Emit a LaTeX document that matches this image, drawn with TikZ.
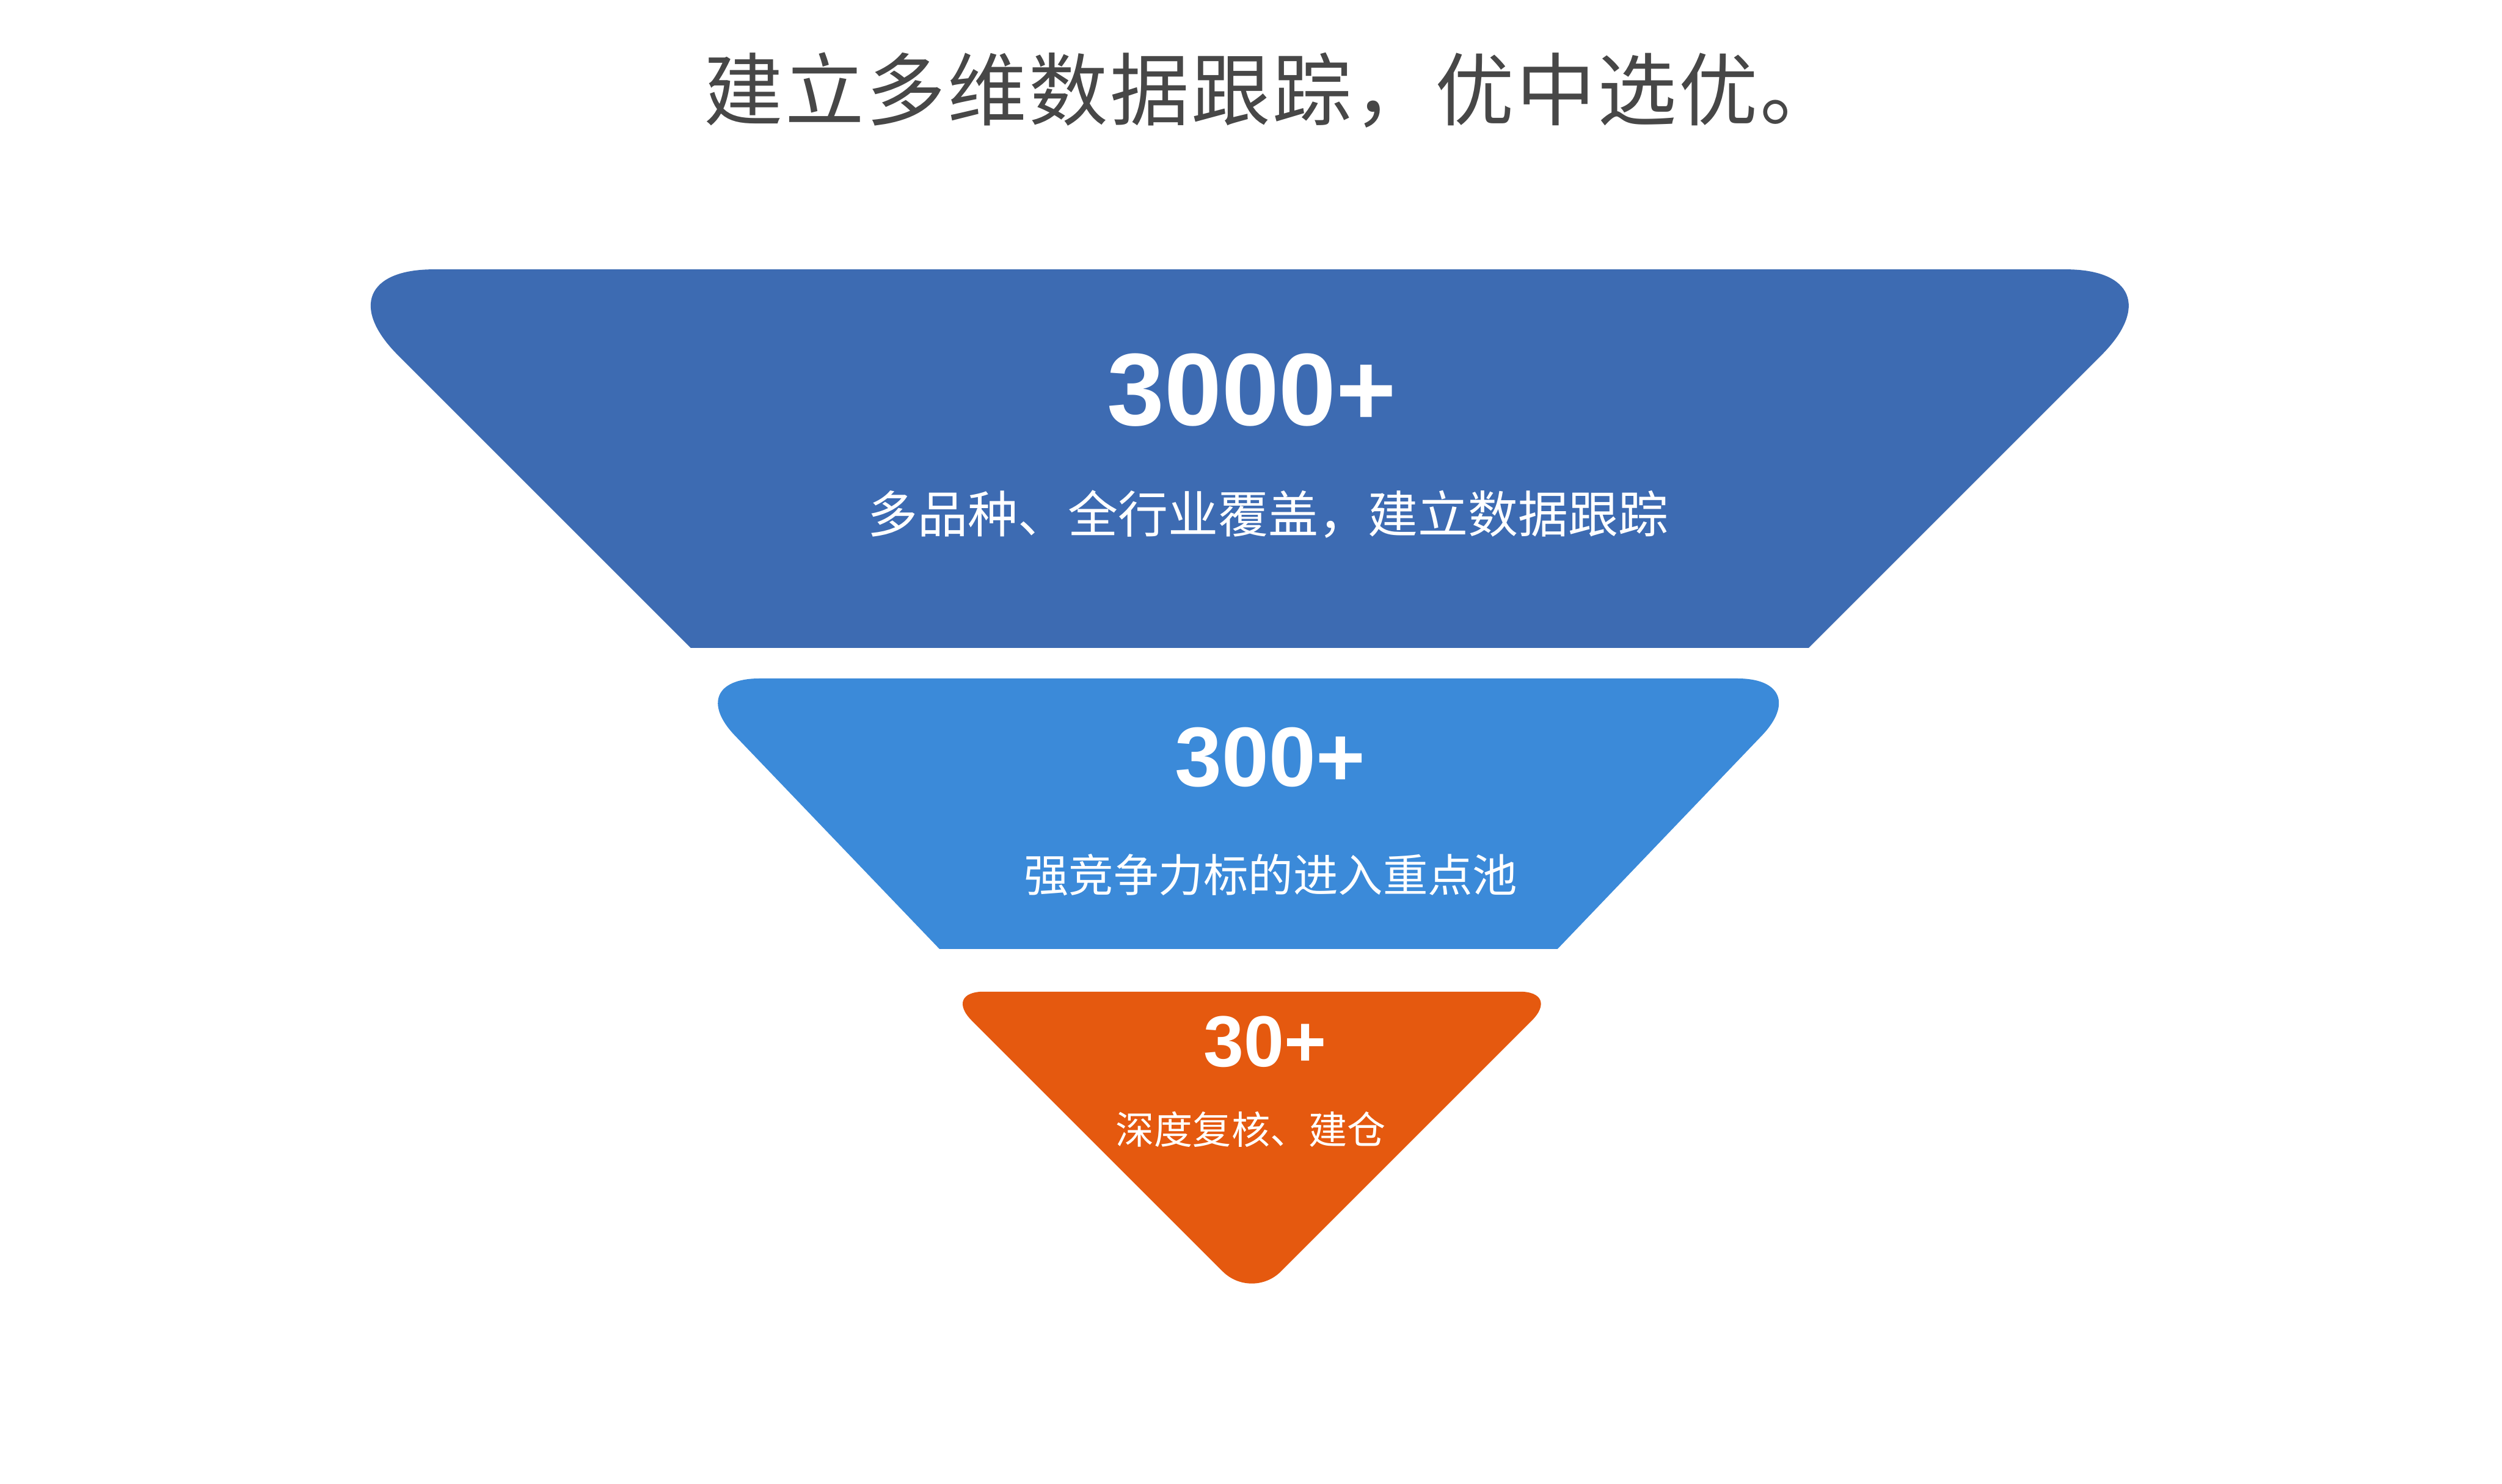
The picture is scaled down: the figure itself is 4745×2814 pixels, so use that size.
\documentclass[tikz,border=0pt]{standalone}
\usepackage{fontspec}
\usepackage{xcolor}
\usepackage{tikz}
\newfontfamily\cjk{Noto Sans CJK SC}
\newfontfamily\numfont{Liberation Sans}
\definecolor{titlegray}{HTML}{474747}
\definecolor{tierone}{HTML}{3D6BB2}
\definecolor{tiertwo}{HTML}{3B8AD9}
\definecolor{tierthree}{HTML}{E5590F}

\begin{document}
\begin{tikzpicture}[
    x=0.01cm, y=-0.01cm,
    ttl/.style={font=\cjk\addfontfeature{LetterSpace=2.6}\fontsize{42.7pt}{46pt}\selectfont,
      text=titlegray, inner sep=0pt},
    num/.style={font=\numfont\bfseries\fontsize{#1}{#1}\selectfont, text=white, inner sep=0pt},
    note/.style={font=\cjk\fontsize{#1}{#1}\selectfont, text=white, inner sep=0pt}]

  % ---- page ----
  \fill[white] (0,0) rectangle (4745,2814);
  \useasboundingbox (0,0) rectangle (4745,2814);

  \node[ttl] (title) at (2412,171) {建立多维数据跟踪，优中选优。};

  % ---- tier 1: wide slice of the funnel ----
  \begin{scope}
    \clip (0,400) rectangle (4745,1228);
    \fill[tierone, rounded corners=2.3cm]
      (2370,511) -- (4148,511) -- (2370,2289) -- (592,511) -- cycle;
  \end{scope}
  \node[num=55.5pt] (cnt1) at (2374,740) {3000+};
  \node[note=27pt] (txt1) at (2405,975) {多品种、全行业覆盖，建立数据跟踪};

  % ---- tier 2 ----
  \begin{scope}
    \clip (0,1200) rectangle (4745,1800);
    \fill[tiertwo, rounded corners=1.5cm]
      (2368,1287) -- (3445,1287) -- (2368,2412) -- (1290,1287) -- cycle;
  \end{scope}
  \node[num=45.5pt] (cnt2) at (2409,1437) {300+};
  \node[note=24.2pt] (txt2) at (2410,1660) {强竞争力标的进入重点池};

  % ---- tier 3: tip ----
  \fill[tierthree, rounded corners=0.78cm]
    (2374,1881) -- (2960,1881) -- (2374,2467) -- (1788,1881) -- cycle;
  \node[num=39pt] (cnt3) at (2399,1976) {30+};
  \node[note=20.8pt] (txt3) at (2372,2142) {深度复核、建仓};
\end{tikzpicture}
\end{document}
